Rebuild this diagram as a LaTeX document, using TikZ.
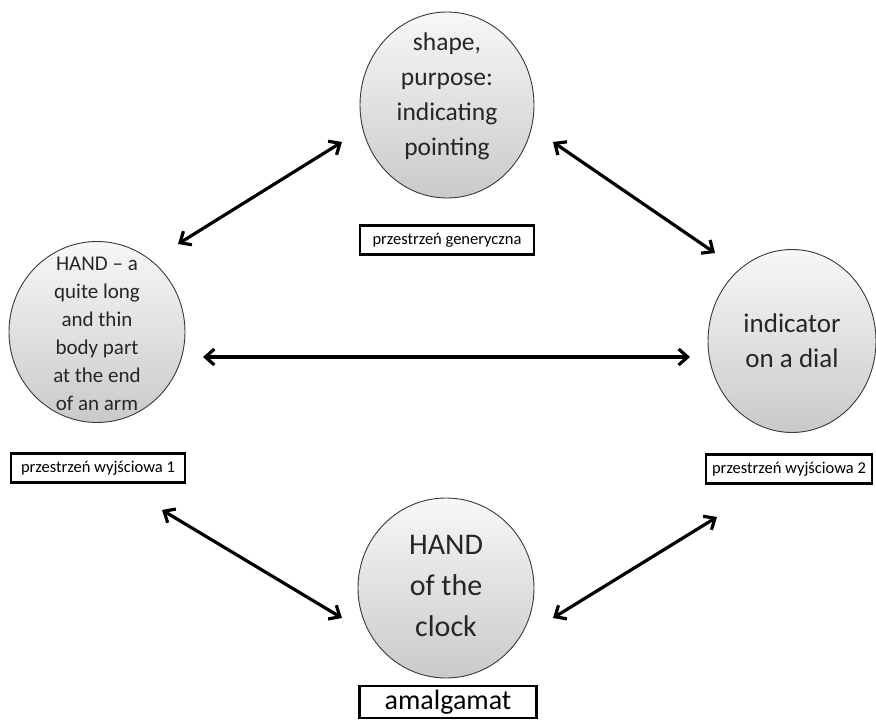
\documentclass[tikz,border=0pt]{standalone}
\usepackage{fontspec}
\setmainfont{Carlito}
\usetikzlibrary{arrows.meta,shapes.geometric}

\begin{document}
\begin{tikzpicture}[
    x=1pt,y=-1pt,
    space/.style={ellipse,draw=gray!45!black,line width=0.9pt,top color=gray!6,bottom color=gray!42,inner sep=0pt},
    txt/.style={align=center,text=black!85},
    tag/.style={draw=black,line width=2.8pt,fill=white,inner sep=0pt,minimum width=174pt,minimum height=29pt},
    link/.style={{Straight Barb[length=9pt,width=16pt]}-{Straight Barb[length=9pt,width=16pt]},line width=3.2pt}
  ]
    \useasboundingbox (0,0) rectangle (876,725);
    % mental spaces
    \node[space,minimum width=174pt,minimum height=186pt,
      label={[txt,font=\fontsize{25.5}{35}\selectfont,yshift=9pt]center:shape,\\purpose:\\indicating\\pointing}] (gen) at (447,105) {};
    \node[space,minimum width=176pt,minimum height=181pt,
      label={[txt,font=\fontsize{21}{28}\selectfont,yshift=-2pt]center:HAND -- a\\quite long\\and thin\\body part\\at the end\\of an arm}] (in1) at (97,332) {};
    \node[space,minimum width=168pt,minimum height=183pt,
      label={[txt,font=\fontsize{27}{35}\selectfont]center:indicator\\on a dial}] (in2) at (792,341) {};
    \node[space,minimum width=176pt,minimum height=180pt,
      label={[txt,font=\fontsize{30}{41}\selectfont,yshift=2pt]center:HAND\\of the\\clock}] (blend) at (446,588) {};
    % names
    \node[tag,font=\fontsize{16.5}{18}\selectfont] (gen-tag) at (447,240) {przestrzeń generyczna};
    \node[tag,font=\fontsize{16.5}{18}\selectfont] (in1-tag) at (98,468) {przestrzeń wyjściowa 1};
    \node[tag,font=\fontsize{16.5}{18}\selectfont,minimum width=166pt] (in2-tag) at (789,469) {przestrzeń wyjściowa 2};
    \node[tag,font=\fontsize{28}{30}\selectfont,minimum height=32pt,minimum width=177pt] (blend-tag) at (448,702) {amalgamat};
    % arrow ends
    \coordinate (gl) at (342,142);
    \coordinate (lg) at (178,244);
    \coordinate (gr) at (553,142);
    \coordinate (rg) at (715,253);
    \coordinate (lr) at (203,357);
    \coordinate (rl) at (690,357);
    \coordinate (lb) at (162,510);
    \coordinate (bl) at (342,618);
    \coordinate (rb) at (717,517);
    \coordinate (br) at (553,618);
    \draw[link] (lg) -- (gl);
    \draw[link] (gr) -- (rg);
    \draw[link] (lr) -- (rl);
    \draw[link] (lb) -- (bl);
    \draw[link] (br) -- (rb);
\end{tikzpicture}
\end{document}
